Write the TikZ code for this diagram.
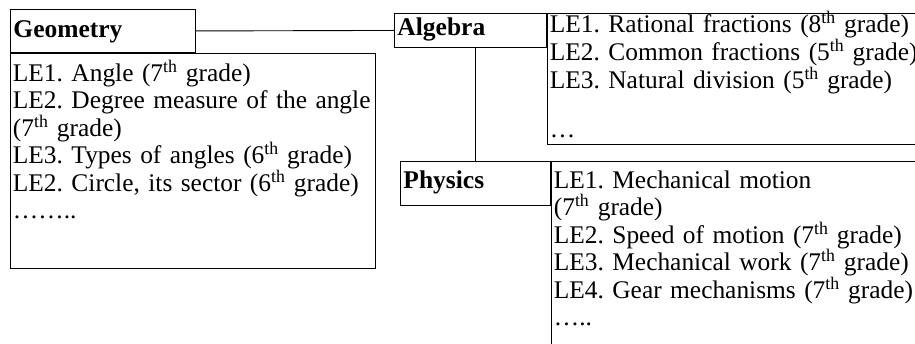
\documentclass[tikz,border=0pt]{standalone}
\usepackage{fontspec}
\setmainfont{Liberation Serif}
\usetikzlibrary{positioning}
\frenchspacing
\hyphenpenalty=10000

\begin{document}
\begin{tikzpicture}[x=1pt,y=-1pt,line width=0.9pt,font=\fontsize{25.4}{27.5}\selectfont,
  subj/.style={draw,anchor=north west,inner xsep=3pt,inner ysep=0pt,align=left,font=\fontsize{25.5}{27}\selectfont\bfseries},
  leitems/.style={draw,anchor=north west,inner xsep=2.5pt,inner ysep=0pt,align=left}]
  \path[use as bounding box,clip] (0,0) rectangle (915,344);
  \node[subj,text width=179pt,text height=28pt,text depth=15pt] (geo) at (10,9) {Geometry};
  \node[leitems,text width=360pt,text height=28pt,text depth=187pt] (geole) at (geo.south west)
    {LE1. Angle (7\textsuperscript{th} grade)\\
     LE2. Degree measure of the angle\\
     (7\textsuperscript{th} grade)\\
     LE3. Types of angles (6\textsuperscript{th} grade)\\
     LE2. Circle, its sector (6\textsuperscript{th} grade)\\
     ……..};
  \node[subj,text width=146pt,text height=22pt,text depth=12pt] (alg) at (394,13) {Algebra};
  \node[leitems,text width=400pt,text height=19pt,text depth=112pt,font=\fontsize{25.4}{25.5}\selectfont] (alge) at (alg.north east)
    {LE1. Rational fractions (8\textsuperscript{th} grade)\\
     LE2. Common fractions (5\textsuperscript{th} grade)\\
     LE3. Natural division (5\textsuperscript{th} grade)\\[24pt]
     …};
  \node[subj,text width=144pt,text height=27pt,text depth=17pt] (phys) at (400,161) {Physics};
  \node[leitems,text width=400pt,text height=27pt,text depth=200pt] (physle) at (phys.north east)
    {LE1. Mechanical motion\\
     (7\textsuperscript{th} grade)\\
     LE2. Speed of motion (7\textsuperscript{th} grade)\\
     LE3. Mechanical work (7\textsuperscript{th} grade)\\
     LE4. Gear mechanisms (7\textsuperscript{th} grade)\\
     …..};
  \draw (geo.east) -- (alg.west);
  \draw (alg.south -| phys.north) -- (phys.north);
\end{tikzpicture}
\end{document}
